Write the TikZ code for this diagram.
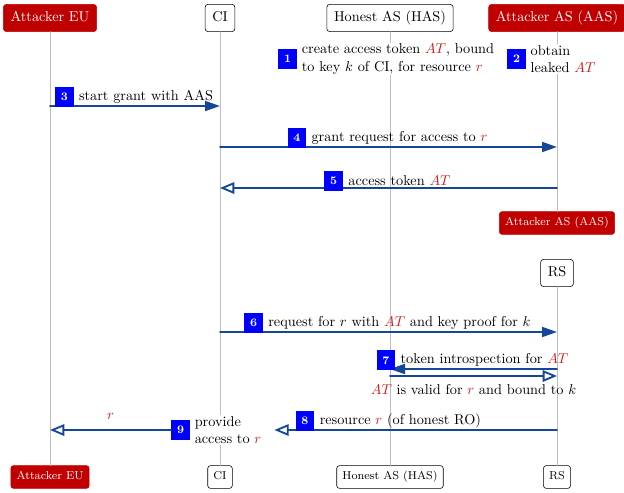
\documentclass[tikz,border=0pt]{standalone}
\usetikzlibrary{arrows.meta,positioning}

\definecolor{lifegray}{RGB}{190,190,190}
\definecolor{msgblue}{RGB}{20,72,150}
\definecolor{boxred}{RGB}{192,0,0}
\definecolor{tokred}{RGB}{215,25,25}
\newcommand{\tok}[1]{\textcolor{tokred}{#1}}

\tikzset{
  party/.style={draw, rounded corners=2pt, minimum height=19pt, inner xsep=5pt,
    text height=7.5pt, text depth=2.5pt},
  attacker/.style={party, fill=boxred, draw=boxred, text=white},
  small/.style={font=\footnotesize, minimum height=16pt, inner xsep=4pt,
    text height=6pt, text depth=2pt},
  lifeline/.style={draw=lifegray, line width=0.7pt},
  req/.style={draw=msgblue, line width=1.3pt, -{Triangle[length=10.5pt,width=7pt]}},
  resp/.style={draw=msgblue, line width=1.3pt, -{Triangle[open,length=10pt,width=8pt]}},
  stepbox/.style={fill=blue, text=white, font=\footnotesize\bfseries,
    minimum width=13pt, minimum height=14pt, inner sep=0pt},
  msg/.style={inner sep=1pt},
  note/.style={fill=white, align=left, inner sep=1pt},
}

\begin{document}
\begin{tikzpicture}[x=0.7pt, y=-0.7pt, line cap=round, line join=round]
\useasboundingbox (0,0) rectangle (624,493);

% parties
\node[attacker] (eu) at (50,18) {Attacker EU};
\node[party] (ci) at (220,18) {CI};
\node[party] (has) at (390,18) {Honest AS (HAS)};
\node[attacker] (aas) at (557,18) {Attacker AS (AAS)};
\node[attacker, small] (aasend) at (557,223) {Attacker AS (AAS)};
\node[party] (rs) at (557,273) {RS};

\node[attacker, small] (eubot) at (50,477) {Attacker EU};
\node[party, small] (cibot) at (220,477) {CI};
\node[party, small] (hasbot) at (390,477) {Honest AS (HAS)};
\node[party, small] (rsbot) at (557,477) {RS};

% lifelines
\draw[lifeline] (eu) -- (eubot);
\draw[lifeline] (ci) -- (cibot);
\draw[lifeline] (has) -- (hasbot);
\draw[lifeline] (aas) -- (aasend);
\draw[lifeline] (rs) -- (rsbot);

% notes 1 and 2
\node[note] (n1) at (398,59) {create access token \tok{$AT$}, bound\\to key $k$ of CI, for resource \tok{$r$}};
\node[stepbox, left=2pt of n1] (s1) {1};
\node[note] (n2) at (563,59) {obtain\\leaked \tok{$AT$}};
\node[stepbox, left=2pt of n2] (s2) {2};

% 3
\draw[req] (eu |- 0,106) -- node[msg, above, xshift=7.7pt] (l3) {start grant with AAS} (ci |- 0,106);
\node[stepbox, left=2pt of l3] (s3) {3};

% 4 and 5
\draw[req] (ci |- 0,147) -- node[msg, above, xshift=7.7pt] (l4) {grant request for access to \tok{$r$}} (aas |- 0,147);
\node[stepbox, left=2pt of l4] (s4) {4};
\draw[resp] (aas |- 0,188) -- node[msg, above, xshift=7.7pt] (l5) {access token \tok{$AT$}} (ci |- 0,188);
\node[stepbox, left=2pt of l5] (s5) {5};

% 6
\draw[req] (ci |- 0,332) -- node[msg, above, xshift=7.7pt] (l6) {request for $r$ with \tok{$AT$} and key proof for $k$} (rs |- 0,332);
\node[stepbox, left=2pt of l6] (s6) {6};

% 7
\draw[req] (rs |- 0,369) -- node[msg, above, xshift=7.7pt] (l7) {token introspection for \tok{$AT$}} (has |- 0,369);
\node[stepbox, left=2pt of l7] (s7) {7};
\draw[resp] (has |- 0,376) -- node[msg, below=4pt] (l7b) {\tok{$AT$} is valid for \tok{$r$} and bound to $k$} (rs |- 0,376);

% 9 and 8
\node[note] (n9) at (228,430) {provide\\access to \tok{$r$}};
\node[stepbox, left=2pt of n9] (s9) {9};
\draw[resp, shorten >=8pt] (rs |- n9) -- node[msg, above, pos=0.57, xshift=7.7pt] (l8) {resource \tok{$r$} (of honest RO)} (n9.east);
\node[stepbox, left=2pt of l8] (s8) {8};
\draw[resp] (s9.west) -- node[msg, above=6pt] (l9) {\tok{$r$}} (eu |- s9);
\end{tikzpicture}
\end{document}
